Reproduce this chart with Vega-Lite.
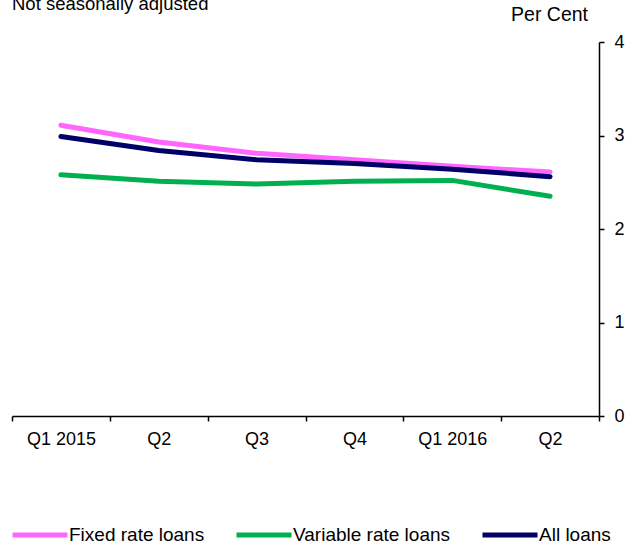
{
  "$schema": "https://vega.github.io/schema/vega-lite/v6.json",
  "width": 587,
  "height": 374,
  "autosize": "none",
  "padding": {"left": 12, "top": 42, "right": 27, "bottom": 127},
  "background": "white",
  "config": {
    "font": "Liberation Sans",
    "view": {"stroke": null}
  },
  "title": {
    "text": "Not seasonally adjusted",
    "anchor": "start",
    "frame": "group",
    "orient": "top",
    "fontSize": 18.5,
    "fontWeight": "normal",
    "color": "black",
    "baseline": "top",
    "offset": -9
  },
  "data": {
    "values": [
      {"q": "Q1 2015", "s": "Fixed rate loans", "v": 3.11},
      {"q": "Q2", "s": "Fixed rate loans", "v": 2.93},
      {"q": "Q3", "s": "Fixed rate loans", "v": 2.81},
      {"q": "Q4", "s": "Fixed rate loans", "v": 2.74},
      {"q": "Q1 2016", "s": "Fixed rate loans", "v": 2.67},
      {"q": "Q2 2016", "s": "Fixed rate loans", "v": 2.61},
      {"q": "Q1 2015", "s": "Variable rate loans", "v": 2.58},
      {"q": "Q2", "s": "Variable rate loans", "v": 2.51},
      {"q": "Q3", "s": "Variable rate loans", "v": 2.48},
      {"q": "Q4", "s": "Variable rate loans", "v": 2.51},
      {"q": "Q1 2016", "s": "Variable rate loans", "v": 2.52},
      {"q": "Q2 2016", "s": "Variable rate loans", "v": 2.35},
      {"q": "Q1 2015", "s": "All loans", "v": 2.99},
      {"q": "Q2", "s": "All loans", "v": 2.84},
      {"q": "Q3", "s": "All loans", "v": 2.74},
      {"q": "Q4", "s": "All loans", "v": 2.70},
      {"q": "Q1 2016", "s": "All loans", "v": 2.64},
      {"q": "Q2 2016", "s": "All loans", "v": 2.56}
    ]
  },
  "mark": {"type": "line", "strokeWidth": 5, "strokeCap": "round", "strokeJoin": "round"},
  "encoding": {
    "x": {
      "field": "q",
      "type": "nominal",
      "sort": null,
      "scale": {"paddingInner": 0, "paddingOuter": 0},
      "axis": {
        "title": null,
        "labelAngle": 0,
        "labelFontSize": 18,
        "labelColor": "black",
        "labelPadding": 9,
        "labelExpr": "datum.value == 'Q2 2016' ? 'Q2' : datum.value",
        "tickBand": "extent",
        "tickSize": 5,
        "tickColor": "black",
        "domainColor": "black",
        "tickWidth": 1.5,
        "domainWidth": 1.5,
        "grid": false
      }
    },
    "y": {
      "field": "v",
      "type": "quantitative",
      "scale": {"domain": [0, 4], "nice": false, "zero": true},
      "axis": {
        "orient": "right",
        "values": [0, 1, 2, 3, 4],
        "grid": false,
        "title": "Per Cent",
        "titleAngle": 0,
        "titleX": -50,
        "titleY": -28,
        "titleAlign": "center",
        "titleBaseline": "middle",
        "titleFontSize": 19.5,
        "titleFontWeight": "normal",
        "titleColor": "black",
        "labelFontSize": 18,
        "labelColor": "black",
        "labelPadding": 10,
        "tickSize": 5,
        "tickColor": "black",
        "domainColor": "black",
        "tickWidth": 1.5,
        "domainWidth": 1.5
      }
    },
    "color": {
      "field": "s",
      "type": "nominal",
      "sort": ["Fixed rate loans", "Variable rate loans", "All loans"],
      "scale": {
        "domain": ["Fixed rate loans", "Variable rate loans", "All loans"],
        "range": ["#ff66ff", "#00b050", "#000066"]
      },
      "legend": {
        "title": null,
        "orient": "none",
        "direction": "horizontal",
        "legendX": -2,
        "legendY": 463,
        "symbolType": "stroke",
        "symbolSize": 3025,
        "symbolStrokeWidth": 5,
        "labelFontSize": 19,
        "labelColor": "black",
        "labelOffset": -1,
        "columnPadding": 21,
        "labelLimit": 300
      }
    }
  }
}
